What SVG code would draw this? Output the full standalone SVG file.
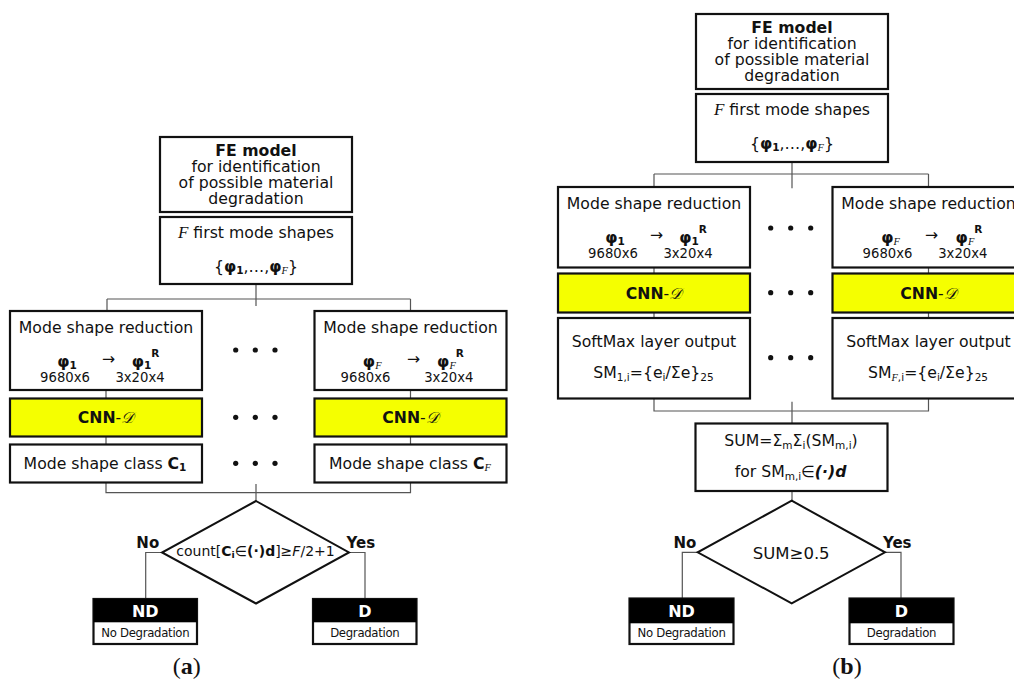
<svg xmlns="http://www.w3.org/2000/svg" width="1014" height="680" viewBox="0 0 1014 680">
<style>
svg{font-family:"DejaVu Sans",sans-serif;font-size:15.7px;text-anchor:middle}
text{fill:#111}
.box{fill:#fff;stroke:#111;stroke-width:2.2}
.cnn{fill:#f5ff00;stroke:#111;stroke-width:2.2}
.dia{fill:#fff;stroke:#111;stroke-width:2}
.hdr{fill:#000}
.con{fill:none;stroke:#555;stroke-width:1.2}
.dot{fill:#111}
.b{font-weight:bold}
.n{font-weight:normal}
.sm{font-size:13.2px}
.sub{font-size:10.5px}
.m{font-family:"Liberation Serif",serif;font-style:italic}
.bi{font-weight:bold;font-style:italic}
.lbl{font-size:15px;font-weight:bold}
.nd{font-family:"DejaVu Sans Condensed","DejaVu Sans",sans-serif;font-stretch:condensed;font-size:13px;letter-spacing:-0.3px}
.wh{fill:#fff;font-weight:bold;font-size:16px}
.cap{font-family:"Liberation Serif",serif;font-size:24px}
.cnt{font-size:14px}
</style>

<g id="connectors">
  <!-- (a) -->
  <path class="con" d="M256,284 V306 M107,299 H410.5 M107,299 V311 M410.5,299 V311"/>
  <path class="con" d="M106,390 V398.5 M106,436.5 V444.5 M410.5,390 V398.5 M410.5,436.5 V444.5"/>
  <path class="con" d="M106,482.5 V492.7 H410.5 V482.5 M256,484 V501"/>
  <path class="con" d="M162,552.5 H145.7 V599 M349,552.5 H365 V599"/>
  <!-- (b) -->
  <path class="con" d="M792,162 V188.3 M654,174 H928.5 M654,174 V187 M928.5,174 V187"/>
  <path class="con" d="M654,267.5 V273.5 M654,312.5 V318 M928.5,267.5 V273.5 M928.5,312.5 V318"/>
  <path class="con" d="M654,398.5 V411 H928.5 V398.5 M792,401.7 V423.5"/>
  <path class="con" d="M792,491 V500.7"/>
  <path class="con" d="M697.7,552.3 H682.3 V598.5 M885,552.3 H901 V598.5"/>
</g>

<!-- ===== (a) ===== -->
<g id="a-fe">
  <rect class="box" x="160" y="137" width="192" height="75"/>
  <text x="256" y="155.5" class="b">FE model</text>
  <text x="256" y="171.5">for identification</text>
  <text x="256" y="187.5">of possible material</text>
  <text x="256" y="203.5">degradation</text>
</g>
<g id="a-modes">
  <rect class="box" x="160" y="217" width="192" height="67"/>
  <text x="256" y="238"><tspan class="m" style="font-size:17px">F</tspan> first mode shapes</text>
  <text x="256" y="272">{<tspan class="b">φ</tspan><tspan class="b sub" dy="2">1</tspan><tspan dy="-2">,…,</tspan><tspan class="b">φ</tspan><tspan class="m sub" dy="2">F</tspan><tspan dy="-2">}</tspan></text>
</g>
<g id="a-red-1">
  <rect class="box" x="10" y="311" width="192" height="79"/>
  <text x="106" y="332.5">Mode shape reduction</text>
  <text x="67" y="366.5" class="b">φ<tspan class="sub" dy="2">1</tspan></text>
  <text x="108.7" y="363.5">→</text>
  <text x="145.5" y="366.5" class="b">φ<tspan class="sub" dy="2">1</tspan><tspan class="sub" dy="-12">R</tspan></text>
  <text x="65" y="382" class="sm">9680x6</text>
  <text x="140" y="382" class="sm">3x20x4</text>
</g>
<g id="a-red-F">
  <rect class="box" x="314.5" y="311" width="192" height="79"/>
  <text x="410.5" y="332.5">Mode shape reduction</text>
  <text x="372.2" y="366.5" class="b">φ<tspan class="m n sub" dy="2">F</tspan></text>
  <text x="413.5" y="363.5">→</text>
  <text x="450.5" y="366.5" class="b">φ<tspan class="m n sub" dy="2">F</tspan><tspan class="sub" dy="-12">R</tspan></text>
  <text x="365.5" y="382" class="sm">9680x6</text>
  <text x="448.8" y="382" class="sm">3x20x4</text>
</g>
<g id="a-cnn-1">
  <rect class="cnn" x="10" y="398.5" width="192" height="38"/>
  <text x="106" y="423" class="b">CNN<tspan class="n">-</tspan><tspan class="m n">𝒟</tspan></text>
</g>
<g id="a-cnn-F">
  <rect class="cnn" x="314.5" y="398.5" width="192" height="38"/>
  <text x="410.5" y="423" class="b">CNN<tspan class="n">-</tspan><tspan class="m n">𝒟</tspan></text>
</g>
<g id="a-class-1">
  <rect class="box" x="10" y="444.5" width="192" height="38"/>
  <text x="105" y="469">Mode shape class <tspan class="b">C</tspan><tspan class="b sub" dy="2">1</tspan></text>
</g>
<g id="a-class-F">
  <rect class="box" x="314.5" y="444.5" width="192" height="38"/>
  <text x="410" y="469">Mode shape class <tspan class="b">C</tspan><tspan class="m sub" dy="2">F</tspan></text>
</g>
<g id="a-dots">
  <circle class="dot" cx="235.7" cy="350" r="2.6"/><circle class="dot" cx="255.3" cy="350" r="2.6"/><circle class="dot" cx="275" cy="350" r="2.6"/>
  <circle class="dot" cx="235.7" cy="417.3" r="2.6"/><circle class="dot" cx="255.3" cy="417.3" r="2.6"/><circle class="dot" cx="275" cy="417.3" r="2.6"/>
  <circle class="dot" cx="235.7" cy="463.3" r="2.6"/><circle class="dot" cx="255.3" cy="463.3" r="2.6"/><circle class="dot" cx="275" cy="463.3" r="2.6"/>
</g>
<g id="a-decision">
  <polygon class="dia" points="256,501 349,552.5 256,603.5 162,552.5"/>
  <text x="255.5" y="556" class="cnt">count[<tspan class="b">C</tspan><tspan class="b" style="font-size:9.5px" dy="2">i</tspan><tspan dy="-2">∈</tspan><tspan class="b">(·)d</tspan>]≥<tspan style="font-style:italic">F</tspan>/2+1</text>
  <text x="147.8" y="548" class="lbl">No</text>
  <text x="360.8" y="548" class="lbl">Yes</text>
</g>
<g id="a-nd">
  <rect class="box" x="93.5" y="599" width="103.5" height="45"/>
  <rect class="hdr" x="93.5" y="599" width="103.5" height="23.3"/>
  <text x="145.3" y="616.7" class="wh">ND</text>
  <text x="145.3" y="637.3" class="nd">No Degradation</text>
</g>
<g id="a-d">
  <rect class="box" x="313" y="599" width="103.5" height="45"/>
  <rect class="hdr" x="313" y="599" width="103.5" height="23.3"/>
  <text x="364.8" y="616.7" class="wh">D</text>
  <text x="364.8" y="637.3" class="nd">Degradation</text>
</g>
<text x="186.7" y="674" class="cap">(<tspan class="b">a</tspan>)</text>

<!-- ===== (b) ===== -->
<g id="b-fe">
  <rect class="box" x="696" y="14" width="192" height="75"/>
  <text x="792" y="32.5" class="b">FE model</text>
  <text x="792" y="48.5">for identification</text>
  <text x="792" y="64.5">of possible material</text>
  <text x="792" y="80.5">degradation</text>
</g>
<g id="b-modes">
  <rect class="box" x="696" y="94" width="192" height="68"/>
  <text x="792" y="115"><tspan class="m" style="font-size:17px">F</tspan> first mode shapes</text>
  <text x="792" y="149">{<tspan class="b">φ</tspan><tspan class="b sub" dy="2">1</tspan><tspan dy="-2">,…,</tspan><tspan class="b">φ</tspan><tspan class="m sub" dy="2">F</tspan><tspan dy="-2">}</tspan></text>
</g>
<g id="b-red-1">
  <rect class="box" x="558" y="187" width="192" height="80.5"/>
  <text x="654" y="208.8">Mode shape reduction</text>
  <text x="615" y="242.5" class="b">φ<tspan class="sub" dy="2">1</tspan></text>
  <text x="656.5" y="239.5">→</text>
  <text x="693" y="242.5" class="b">φ<tspan class="sub" dy="2">1</tspan><tspan class="sub" dy="-12">R</tspan></text>
  <text x="613" y="258.2" class="sm">9680x6</text>
  <text x="688" y="258.2" class="sm">3x20x4</text>
</g>
<g id="b-red-F">
  <rect class="box" x="832.5" y="187" width="192" height="80.5"/>
  <text x="928.5" y="208.8">Mode shape reduction</text>
  <text x="890.5" y="242.5" class="b">φ<tspan class="m n sub" dy="2">F</tspan></text>
  <text x="931.5" y="239.5">→</text>
  <text x="969" y="242.5" class="b">φ<tspan class="m n sub" dy="2">F</tspan><tspan class="sub" dy="-12">R</tspan></text>
  <text x="887.5" y="258.2" class="sm">9680x6</text>
  <text x="962.8" y="258.2" class="sm">3x20x4</text>
</g>
<g id="b-cnn-1">
  <rect class="cnn" x="558" y="273.5" width="192" height="39"/>
  <text x="654" y="298.8" class="b">CNN<tspan class="n">-</tspan><tspan class="m n">𝒟</tspan></text>
</g>
<g id="b-cnn-F">
  <rect class="cnn" x="832.5" y="273.5" width="192" height="39"/>
  <text x="928.5" y="298.8" class="b">CNN<tspan class="n">-</tspan><tspan class="m n">𝒟</tspan></text>
</g>
<g id="b-soft-1">
  <rect class="box" x="558" y="318" width="192" height="80.5"/>
  <text x="654" y="346.7">SoftMax layer output</text>
  <text x="653.5" y="378.3">SM<tspan class="sub" dy="3">1,i</tspan><tspan dy="-3">={e</tspan><tspan class="sub" dy="3">i</tspan><tspan dy="-3">/Σe}</tspan><tspan class="sub" dy="3">25</tspan></text>
</g>
<g id="b-soft-F">
  <rect class="box" x="832.5" y="318" width="192" height="80.5"/>
  <text x="928.5" y="346.7">SoftMax layer output</text>
  <text x="928" y="378.3">SM<tspan class="m sub" dy="3">F</tspan><tspan class="sub">,i</tspan><tspan dy="-3">={e</tspan><tspan class="sub" dy="3">i</tspan><tspan dy="-3">/Σe}</tspan><tspan class="sub" dy="3">25</tspan></text>
</g>
<g id="b-dots">
  <circle class="dot" cx="770.7" cy="228" r="2.6"/><circle class="dot" cx="790.7" cy="228" r="2.6"/><circle class="dot" cx="810.7" cy="228" r="2.6"/>
  <circle class="dot" cx="770.7" cy="292.7" r="2.6"/><circle class="dot" cx="790.7" cy="292.7" r="2.6"/><circle class="dot" cx="810.7" cy="292.7" r="2.6"/>
  <circle class="dot" cx="770.7" cy="357.7" r="2.6"/><circle class="dot" cx="790.7" cy="357.7" r="2.6"/><circle class="dot" cx="810.7" cy="357.7" r="2.6"/>
</g>
<g id="b-sum">
  <rect class="box" x="695.5" y="423.5" width="192" height="67.5"/>
  <text x="791" y="446">SUM=Σ<tspan class="sub" dy="3">m</tspan><tspan dy="-3">Σ</tspan><tspan class="sub" dy="3">i</tspan><tspan dy="-3">(SM</tspan><tspan class="sub" dy="3">m,i</tspan><tspan dy="-3">)</tspan></text>
  <text x="790.5" y="477">for SM<tspan class="sub" dy="3">m,i</tspan><tspan dy="-3">∈</tspan><tspan class="bi">(·)d</tspan></text>
</g>
<g id="b-decision">
  <polygon class="dia" points="791.7,500.7 885,552.3 791.7,603.3 697.7,552.3"/>
  <text x="791.2" y="559" style="font-size:16.5px">SUM≥0.5</text>
  <text x="685" y="548" class="lbl">No</text>
  <text x="897.2" y="548" class="lbl">Yes</text>
</g>
<g id="b-nd">
  <rect class="box" x="629.5" y="598.5" width="104" height="45.5"/>
  <rect class="hdr" x="629.5" y="598.5" width="104" height="24.8"/>
  <text x="681.5" y="616.7" class="wh">ND</text>
  <text x="681.5" y="637.3" class="nd">No Degradation</text>
</g>
<g id="b-d">
  <rect class="box" x="849.5" y="598.5" width="104" height="45.5"/>
  <rect class="hdr" x="849.5" y="598.5" width="104" height="24.8"/>
  <text x="901.5" y="616.7" class="wh">D</text>
  <text x="901.5" y="637.3" class="nd">Degradation</text>
</g>
<text x="847" y="674" class="cap">(<tspan class="b">b</tspan>)</text>
</svg>
